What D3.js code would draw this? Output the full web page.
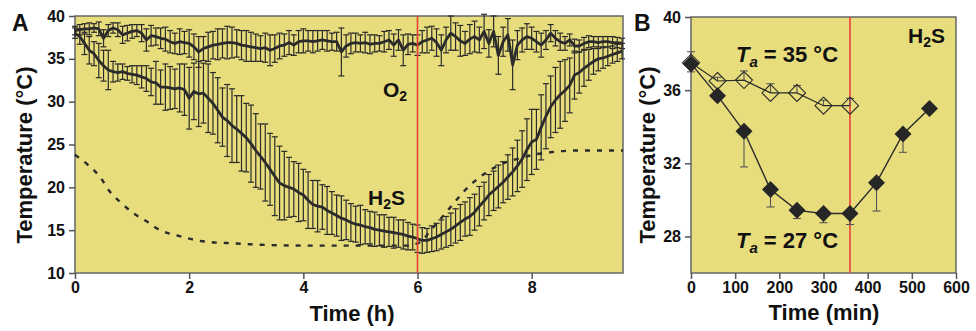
<!DOCTYPE html>
<html lang="en">
<head>
  <meta charset="UTF-8">
  <title>Body temperature in H2S</title>
  <style>
    body { margin: 0; background: #fff; }
    text { font-family: "Liberation Sans", Arial, Helvetica, sans-serif; font-weight: bold; }
  </style>
  <script src="https://d3js.org/d3.v7.min.js"></script>
</head>
<body>
  <div id="chart"></div>
  <script>
    // Panel A: 5-min samples, hours = index / 12
    const h2sMean = [
      38.0, 37.6, 36.8, 36.0, 35.6, 34.8, 34.2, 33.7, 33.5, 33.4, 33.5, 33.3,
      33.2, 33.1, 32.9, 32.7, 32.3, 32.2, 31.7, 31.7, 31.6, 31.5, 31.6, 31.4,
      30.4, 31.2, 30.9, 31.0, 30.4, 29.8, 29.0, 28.2, 27.8, 27.2, 26.8, 26.3,
      25.8, 25.1, 24.3, 23.6, 22.9, 22.1, 21.3, 20.5, 20.2, 20.0, 19.8, 19.4,
      19.1, 18.5, 18.0, 17.8, 17.7, 17.3, 17.0, 16.7, 16.4, 16.2, 15.9, 15.7,
      15.6, 15.4, 15.3, 15.1, 15.0, 14.9, 14.8, 14.7, 14.6, 14.5, 14.3, 14.2,
      14.0, 13.8, 13.8, 14.0, 14.2, 14.5, 14.8, 15.1, 15.5, 15.9, 16.3, 16.6,
      17.1, 17.8, 18.4, 19.1, 19.6, 20.1, 20.6, 21.2, 21.8, 22.5, 23.3, 24.4,
      25.3, 25.6, 27.0, 28.3, 29.4, 30.2, 30.8, 31.3, 31.9, 33.1, 33.4, 33.9,
      34.3, 34.7, 35.0, 35.1, 35.3, 35.5, 35.7, 35.9
    ];
    const h2sErr = [
      0.6, 0.9, 1.3, 1.6, 1.4, 2.0, 1.8, 2.3, 1.2, 1.0, 0.9, 0.8,
      1.0, 1.1, 1.3, 1.5, 1.6, 2.5, 2.0, 2.7, 2.5, 2.3, 2.8, 3.0,
      3.6, 3.3, 3.8, 3.5, 4.0, 3.6, 3.8, 3.4, 4.2, 4.3, 3.9, 4.4,
      4.0, 4.5, 4.3, 3.8, 4.5, 4.2, 4.6, 4.3, 4.0, 3.5, 3.2, 3.4,
      3.0, 3.3, 2.8, 3.0, 2.6, 2.8, 2.5, 2.4, 2.6, 2.3, 2.2, 2.1,
      2.3, 2.0, 1.9, 2.0, 1.8, 1.9, 1.7, 1.8, 1.6, 1.7, 1.6, 1.5,
      1.6, 1.5, 1.4, 1.5, 1.6, 1.7, 1.8, 1.9, 2.0, 2.1, 2.0, 2.2,
      2.1, 2.3, 2.2, 2.4, 2.3, 2.5, 2.4, 2.6, 2.8, 3.0, 3.3, 3.6,
      3.8, 3.5, 3.8, 3.8, 3.6, 3.8, 3.9, 3.6, 3.2, 2.8, 2.4, 2.1,
      1.8, 1.5, 1.4, 1.2, 1.1, 1.0, 1.0, 0.9
    ];
    const o2Mean = [
      38.3, 38.4, 38.5, 38.5, 38.6, 38.5, 37.4, 38.3, 38.6, 38.4, 37.8, 38.0,
      38.2, 38.3, 38.0, 37.2, 37.7, 37.6, 37.4, 37.3, 37.0, 36.8, 37.0, 36.9,
      36.8, 36.4, 35.8, 36.2, 36.4, 36.6, 36.7, 36.8, 36.9, 36.9, 36.8, 36.6,
      36.5, 36.4, 36.3, 36.2, 36.3, 36.0, 36.2, 36.5, 36.6, 36.9, 36.6, 37.0,
      37.1, 37.1, 37.0, 37.1, 37.2, 37.1, 37.0, 37.0, 35.8, 36.5, 36.8, 36.9,
      36.8, 36.9, 36.7, 36.8, 36.8, 37.0, 37.2, 36.6, 37.2, 36.0, 36.7, 36.8,
      36.6, 37.0, 37.2, 37.4, 36.9, 36.0, 37.2, 38.0, 37.6, 37.1, 36.8, 37.3,
      37.6, 37.2, 38.2, 36.8, 38.2, 35.4, 37.0, 37.8, 34.3, 36.6, 37.2, 37.6,
      37.4, 37.0, 36.6, 37.2, 38.0, 37.4, 37.0, 36.8, 37.2, 36.5, 36.5, 36.8,
      37.0, 37.0, 36.9, 37.0, 37.0, 36.9, 36.9, 36.8
    ];
    const o2Err = [
      0.5, 0.6, 0.6, 0.7, 0.5, 0.8, 1.0, 0.7, 0.6, 0.8, 1.0, 0.9,
      0.8, 0.7, 1.0, 1.3, 1.2, 1.0, 1.2, 1.4, 1.3, 1.2, 1.5, 1.3,
      1.6, 1.5, 1.8, 1.4, 1.7, 1.6, 1.8, 1.7, 1.9, 1.8, 1.6, 1.7,
      1.8, 1.7, 1.6, 1.5, 1.7, 1.8, 1.6, 1.5, 1.3, 1.4, 1.2, 1.3,
      1.4, 1.2, 1.3, 1.2, 1.1, 1.2, 1.0, 1.1, 2.8, 1.3, 1.2, 1.1,
      1.0, 1.2, 1.1, 1.0, 0.9, 1.2, 1.1, 1.3, 1.2, 1.8, 1.2, 1.0,
      1.2, 1.3, 1.5, 1.4, 1.6, 1.8, 1.5, 2.0, 1.6, 1.8, 1.4, 1.7,
      1.8, 1.5, 2.0, 1.6, 1.8, 2.2, 1.7, 1.9, 2.9, 1.7, 1.4, 1.5,
      1.3, 1.2, 1.4, 1.1, 1.0, 0.9, 1.0, 0.8, 0.7, 0.8, 0.7, 0.7,
      0.7, 0.6, 0.7, 0.6, 0.6, 0.7, 0.6, 0.6
    ];
    // chamber (ambient) temperature, dashed
    const ambHours = [0, 0.23, 0.44, 0.61, 0.79, 1.02, 1.26, 1.49, 1.78, 2.07, 2.37, 2.66, 2.95, 3.25, 4.0, 5.0, 5.8, 6.05, 6.23, 6.46, 6.63, 6.81, 6.98, 7.22, 7.5, 7.8, 8.03, 8.33, 8.8, 9.6];
    const ambTemp  = [23.8, 22.6, 21.2, 19.5, 18.3, 17.0, 16.0, 15.0, 14.4, 13.9, 13.6, 13.5, 13.4, 13.3, 13.2, 13.2, 13.2, 13.6, 15.0, 16.75, 18.1, 19.5, 20.6, 21.8, 22.8, 23.4, 23.8, 24.1, 24.3, 24.3];
    const hourTicks = [0, 2, 4, 6, 8];
    const tempTicksA = [10, 15, 20, 25, 30, 35, 40];

    // Panel B
    const minTicks = [0, 100, 200, 300, 400, 500, 600];
    const tempTicksB = [28, 32, 36, 40];
    const min27 = [0, 60, 120, 180, 240, 300, 360, 420, 480, 540];
    const temp27 = [37.45, 35.7, 33.75, 30.56, 29.43, 29.25, 29.25, 30.94, 33.6, 35.0];
    const err27 = [0.45, 0.2, 1.95, 0.95, 0.45, 0.5, 0.6, 1.55, 1.0, 0.2];
    const min35 = [0, 60, 120, 180, 240, 300, 360];
    const temp35 = [37.5, 36.5, 36.55, 35.85, 35.85, 35.15, 35.15];
    const err35 = [0.6, 0.2, 0.5, 0.5, 0.4, 0.3, 0.4];

    const bg = "#e7dd7c", ink = "#2b2b2b", red = "#e8403a";

    const svg = d3.select("#chart").append("svg")
      .attr("width", 976).attr("height", 331);

    function styleAxis(g) {
      g.select(".domain").remove();
      g.selectAll(".tick line").attr("stroke", "#555").attr("stroke-width", 1.5);
      g.selectAll(".tick text").attr("fill", "#111").style("font-size", "16px");
    }

    // ---------- Panel A ----------
    const xA = d3.scaleLinear().domain([0, 9.6]).range([75, 623]);
    const yA = d3.scaleLinear().domain([10, 40]).range([273, 16]);
    const hrs = i => i / 12;

    svg.append("rect").attr("x", 75).attr("y", 16).attr("width", 548).attr("height", 257)
      .attr("fill", bg).attr("stroke", "#666").attr("stroke-width", 1.5);

    svg.append("g").attr("transform", "translate(75,0)")
      .call(d3.axisLeft(yA).tickValues(tempTicksA).tickSize(6).tickPadding(4).tickSizeOuter(0))
      .call(styleAxis);
    svg.append("g").attr("transform", "translate(0,273)")
      .call(d3.axisBottom(xA).tickValues(hourTicks).tickSize(6).tickPadding(3).tickSizeOuter(0))
      .call(styleAxis);

    function errBars(g, mean, err, x, y, cap) {
      const sel = g.selectAll(null).data(mean.map((m, i) => ({ i, m, e: err[i] }))).enter().append("g");
      sel.append("line")
        .attr("x1", d => x(hrs(d.i))).attr("x2", d => x(hrs(d.i)))
        .attr("y1", d => y(d.m - d.e)).attr("y2", d => y(d.m + d.e));
      [-1, 1].forEach(s => sel.append("line")
        .attr("x1", d => x(hrs(d.i)) - cap).attr("x2", d => x(hrs(d.i)) + cap)
        .attr("y1", d => y(d.m + s * d.e)).attr("y2", d => y(d.m + s * d.e)));
    }

    const gA = svg.append("g");
    const barsA = gA.append("g").attr("stroke", ink).attr("stroke-width", 1.2);
    errBars(barsA, o2Mean, o2Err, xA, yA, 3);
    errBars(barsA, h2sMean, h2sErr, xA, yA, 3);

    const meanLine = d3.line().x((d, i) => xA(hrs(i))).y(d => yA(d));
    gA.append("path").datum(o2Mean).attr("d", meanLine)
      .attr("fill", "none").attr("stroke", ink).attr("stroke-width", 2.8).attr("stroke-linejoin", "round");
    gA.append("path").datum(h2sMean).attr("d", meanLine)
      .attr("fill", "none").attr("stroke", ink).attr("stroke-width", 2.8).attr("stroke-linejoin", "round");

    gA.append("path").datum(ambHours.map((h, i) => [h, ambTemp[i]]))
      .attr("d", d3.line().x(d => xA(d[0])).y(d => yA(d[1])).curve(d3.curveMonotoneX))
      .attr("fill", "none").attr("stroke", ink).attr("stroke-width", 2.4).attr("stroke-dasharray", "5,7");

    svg.append("line").attr("x1", xA(6)).attr("x2", xA(6)).attr("y1", 16).attr("y2", 273)
      .attr("stroke", red).attr("stroke-width", 1.6);

    const o2Label = svg.append("text").attr("x", 383).attr("y", 97).style("font-size", "21px").attr("fill", "#111");
    o2Label.append("tspan").text("O");
    o2Label.append("tspan").attr("dy", 4).style("font-size", "14px").text("2");

    const h2sA = svg.append("text").attr("x", 368).attr("y", 205).style("font-size", "21px").attr("fill", "#111");
    h2sA.append("tspan").text("H");
    h2sA.append("tspan").attr("dy", 4).style("font-size", "14px").text("2");
    h2sA.append("tspan").attr("dy", -4).text("S");

    svg.append("text").attr("x", 352).attr("y", 321).attr("text-anchor", "middle")
      .style("font-size", "22px").attr("fill", "#111").text("Time (h)");
    svg.append("text").attr("transform", "translate(32,155) rotate(-90)").attr("text-anchor", "middle")
      .style("font-size", "22px").attr("fill", "#111").text("Temperature (°C)");
    svg.append("text").attr("x", 12).attr("y", 31).style("font-size", "23px").attr("fill", "#111").text("A");

    // ---------- Panel B ----------
    const xB = d3.scaleLinear().domain([0, 600]).range([691, 956]);
    const yB = d3.scaleLinear().domain([26, 40]).range([273, 17]);

    svg.append("rect").attr("x", 691).attr("y", 17).attr("width", 265).attr("height", 256)
      .attr("fill", bg).attr("stroke", "#666").attr("stroke-width", 1.5);

    svg.append("g").attr("transform", "translate(691,0)")
      .call(d3.axisLeft(yB).tickValues(tempTicksB).tickSize(6).tickPadding(4).tickSizeOuter(0))
      .call(styleAxis);
    svg.append("g").attr("transform", "translate(0,273)")
      .call(d3.axisBottom(xB).tickValues(minTicks).tickSize(6).tickPadding(3).tickSizeOuter(0))
      .call(styleAxis);

    svg.append("line").attr("x1", xB(360)).attr("x2", xB(360)).attr("y1", 17).attr("y2", 273)
      .attr("stroke", red).attr("stroke-width", 1.6);

    const gB = svg.append("g");
    const bErr = gB.append("g").attr("stroke", "#555").attr("stroke-width", 1.1);
    // Ta = 35 bars point up, Ta = 27 bars point down
    min35.forEach((m, i) => {
      const x = xB(m), y0 = yB(temp35[i]), y1 = yB(temp35[i] + err35[i]);
      bErr.append("line").attr("x1", x).attr("x2", x).attr("y1", y0).attr("y2", y1);
      bErr.append("line").attr("x1", x - 4).attr("x2", x + 4).attr("y1", y1).attr("y2", y1);
    });
    min27.forEach((m, i) => {
      const x = xB(m), y0 = yB(temp27[i]), y1 = yB(temp27[i] - err27[i]);
      bErr.append("line").attr("x1", x).attr("x2", x).attr("y1", y0).attr("y2", y1);
      bErr.append("line").attr("x1", x - 4).attr("x2", x + 4).attr("y1", y1).attr("y2", y1);
    });

    const lineB = d3.line().x(d => xB(d[0])).y(d => yB(d[1]));
    const pts35 = min35.map((m, i) => [m, temp35[i]]);
    const pts27 = min27.map((m, i) => [m, temp27[i]]);
    gB.append("path").datum(pts35).attr("d", lineB).attr("fill", "none").attr("stroke", ink).attr("stroke-width", 1.2);
    gB.append("path").datum(pts27).attr("d", lineB).attr("fill", "none").attr("stroke", ink).attr("stroke-width", 1.4);

    const diamond = r => `M0,${-r}L${r},0L0,${r}L${-r},0Z`;
    gB.selectAll(null).data(pts35).enter().append("path")
      .attr("d", diamond(8.5)).attr("transform", d => `translate(${xB(d[0])},${yB(d[1])})`)
      .attr("fill", "none").attr("stroke", ink).attr("stroke-width", 1.1);
    gB.selectAll(null).data(pts27).enter().append("path")
      .attr("d", diamond(8.5)).attr("transform", d => `translate(${xB(d[0])},${yB(d[1])})`)
      .attr("fill", "#262626");

    function taLabel(y, val) {
      const t = svg.append("text").attr("x", 787).attr("y", y).attr("text-anchor", "middle")
        .style("font-size", "22px").attr("fill", "#111");
      t.append("tspan").style("font-style", "italic").text("T");
      t.append("tspan").attr("dy", 5).style("font-style", "italic").style("font-size", "15px").text("a");
      t.append("tspan").attr("dy", -5).text(` = ${val} °C`);
    }
    taLabel(62, 35);
    taLabel(248, 27);

    const h2sB = svg.append("text").attr("x", 908).attr("y", 43).style("font-size", "21px").attr("fill", "#111");
    h2sB.append("tspan").text("H");
    h2sB.append("tspan").attr("dy", 4).style("font-size", "14px").text("2");
    h2sB.append("tspan").attr("dy", -4).text("S");

    svg.append("text").attr("x", 824).attr("y", 320).attr("text-anchor", "middle")
      .style("font-size", "22px").attr("fill", "#111").text("Time (min)");
    svg.append("text").attr("transform", "translate(655,155) rotate(-90)").attr("text-anchor", "middle")
      .style("font-size", "22px").attr("fill", "#111").text("Temperature (°C)");
    svg.append("text").attr("x", 634).attr("y", 31).style("font-size", "23px").attr("fill", "#111").text("B");
  </script>
</body>
</html>
